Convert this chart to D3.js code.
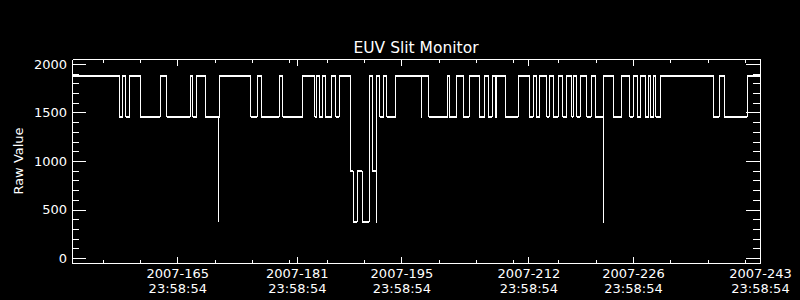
<!DOCTYPE html>
<html>
<head>
<meta charset="utf-8">
<script src="https://cdn.jsdelivr.net/npm/d3@7"></script>
<style>
  html, body { margin: 0; padding: 0; background: #000; }
  svg { display: block; }
  text { font-family: "DejaVu Sans", sans-serif; font-size: 13px; fill: #fff; }
  .axis path, .axis line { stroke: #fff; shape-rendering: crispEdges; }
  .trace { fill: none; stroke: #fff; shape-rendering: crispEdges; }
</style>
</head>
<body>
<script>
"use strict";

// x values are fractional day-of-year 2007 (165.99924 = 2007-165 23:58:54)
var dayRange = [151.904, 244.004];
var valueRange = [-50, 2050];

// start of each level of the slit monitor signal (day of year)
var stepDays = [
  151.90, 158.23, 158.73, 159.13, 159.66, 161.04, 163.72, 164.62, 167.74, 168.10,
  168.63, 169.74, 171.54, 171.58, 171.67, 175.82, 176.71, 177.24, 179.65, 180.11,
  182.78, 184.43, 184.66, 184.97, 185.46, 185.81, 186.67, 187.24, 187.68, 189.21,
  189.58, 190.09, 190.76, 191.70, 192.13, 192.60, 192.69, 193.13, 193.67, 194.03,
  195.23, 198.69, 198.75, 199.65, 202.20, 202.41, 203.40, 204.28, 205.09, 206.43,
  207.19, 207.63, 208.13, 208.53, 208.76, 209.87, 211.65, 213.12, 213.65, 214.02,
  214.55, 215.45, 215.80, 216.33, 217.00, 217.59, 218.13, 218.80, 219.01, 219.46,
  219.91, 220.80, 221.42, 221.95, 223.03, 223.08, 224.36, 225.53, 226.60, 227.04,
  227.54, 228.07, 228.61, 229.08, 229.32, 229.77, 230.08, 230.75, 237.75, 238.55,
  239.22, 242.30, 244.00
];
// raw value held from that day on
var stepValues = [
  1880, 1455, 1880, 1455, 1880, 1455, 1880, 1455, 1880, 1455,
  1880, 1455, 375, 1455, 1880, 1455, 1880, 1455, 1880, 1455,
  1880, 1455, 1880, 1455, 1880, 1455, 1880, 1455, 1880, 893,
  377, 893, 377, 1880, 893, 377, 1880, 1455, 1880, 1455,
  1880, 1455, 1880, 1455, 1880, 1455, 1880, 1455, 1880, 1455,
  1880, 1455, 1880, 1455, 1880, 1455, 1880, 1455, 1880, 1455,
  1880, 1455, 1880, 1455, 1880, 1455, 1880, 1455, 1880, 1455,
  1880, 1455, 1880, 1455, 375, 1880, 1455, 1880, 1455, 1880,
  1455, 1880, 1455, 1880, 1455, 1880, 1455, 1880, 1455, 1880,
  1455, 1880, 1880
];

// labelled ticks (23:58:54 of each day) and their labels
var majorDays = [165.99924, 181.99924, 195.99924, 212.99924, 226.99924, 243.99924];
var majorLabels = [
  ["2007-165", "23:58:54"], ["2007-181", "23:58:54"], ["2007-195", "23:58:54"],
  ["2007-212", "23:58:54"], ["2007-226", "23:58:54"], ["2007-243", "23:58:54"]
];
// minor ticks on the 5th, 10th ... 30th of each month
var minorDays = [156, 161, 166, 171, 176, 181, 186, 191, 196, 201, 206, 211, 217, 222, 227, 232, 237, 242];

var yMajor = [0, 500, 1000, 1500, 2000];
var yMinor = d3.range(0, 2001, 100);

var margin = {top: 59, right: 40, bottom: 37, left: 72},
    width = 800 - margin.left - margin.right,
    height = 300 - margin.top - margin.bottom;

var xScale = d3.scaleLinear().domain(dayRange).range([0, width]);
var yScale = d3.scaleLinear().domain(valueRange).range([height, 0]);

var svg = d3.select("body").append("svg")
    .attr("width", 800)
    .attr("height", 300);

svg.append("rect")
    .attr("width", 800)
    .attr("height", 300)
    .attr("fill", "#000");

var view = svg.append("g")
    .attr("transform", "translate(" + margin.left + "," + margin.top + ")");

// -- axes, IDL style: ticks inside on all four sides --
view.append("g").attr("class", "axis")
    .call(d3.axisLeft(yScale).tickValues(yMinor).tickSize(-7).tickSizeOuter(0).tickFormat(""));
view.append("g").attr("class", "axis")
    .call(d3.axisLeft(yScale).tickValues(yMajor).tickSize(-14).tickSizeOuter(0).tickPadding(5)
      .tickFormat(d3.format("d")));

view.append("g").attr("class", "axis")
    .attr("transform", "translate(" + width + ",0)")
    .call(d3.axisRight(yScale).tickValues(yMinor).tickSize(-7).tickSizeOuter(0).tickFormat(""));
view.append("g").attr("class", "axis")
    .attr("transform", "translate(" + width + ",0)")
    .call(d3.axisRight(yScale).tickValues(yMajor).tickSize(-14).tickSizeOuter(0).tickFormat(""));

view.append("g").attr("class", "axis")
    .call(d3.axisTop(xScale).tickValues(minorDays).tickSize(-3.5).tickSizeOuter(0).tickFormat(""));
view.append("g").attr("class", "axis")
    .call(d3.axisTop(xScale).tickValues(majorDays).tickSize(-6.5).tickSizeOuter(0).tickFormat(""));

view.append("g").attr("class", "axis")
    .attr("transform", "translate(0," + height + ")")
    .call(d3.axisBottom(xScale).tickValues(minorDays).tickSize(-3.5).tickSizeOuter(0).tickFormat(""));
var gX = view.append("g").attr("class", "axis")
    .attr("transform", "translate(0," + height + ")")
    .call(d3.axisBottom(xScale).tickValues(majorDays).tickSize(-6.5).tickSizeOuter(0).tickFormat(""));

// two line date labels under the bottom axis
gX.selectAll(".tick").each(function(d, i){
  var t = d3.select(this);
  t.append("text").attr("text-anchor", "middle").attr("y", 15).text(majorLabels[i][0]);
  t.append("text").attr("text-anchor", "middle").attr("y", 29.5).text(majorLabels[i][1]);
});
view.selectAll(".axis text").attr("fill", "#fff").attr("font-family", null).attr("font-size", null);

// -- series --
var steps = stepDays.map(function(d, i){ return {day: d, value: stepValues[i]}; });

var line = d3.line()
    .x(function(d) { return xScale(d.day); })
    .y(function(d) { return yScale(d.value); })
    .curve(d3.curveStepAfter);

view.append("path")
    .datum(steps)
    .attr("class", "trace")
    .attr("stroke-width", 1)
    .attr("d", line);

// the held levels read about two pixels thick
var holds = steps.slice(0, -1).map(function(d, i){ return [d, {day: steps[i + 1].day, value: d.value}]; });
view.selectAll(".hold").data(holds)
  .enter().append("path")
    .attr("class", "trace hold")
    .attr("stroke-width", 2)
    .attr("d", d3.line().x(function(d){ return xScale(d.day); }).y(function(d){ return yScale(d.value); }));

// -- titles --
svg.append("text")
    .attr("x", margin.left + width / 2)
    .attr("y", 53)
    .attr("text-anchor", "middle")
    .style("font-size", "15.5px")
    .text("EUV Slit Monitor");

svg.append("text")
    .attr("transform", "translate(23," + (margin.top + height / 2) + ") rotate(-90)")
    .attr("text-anchor", "middle")
    .text("Raw Value");
</script>
</body>
</html>
